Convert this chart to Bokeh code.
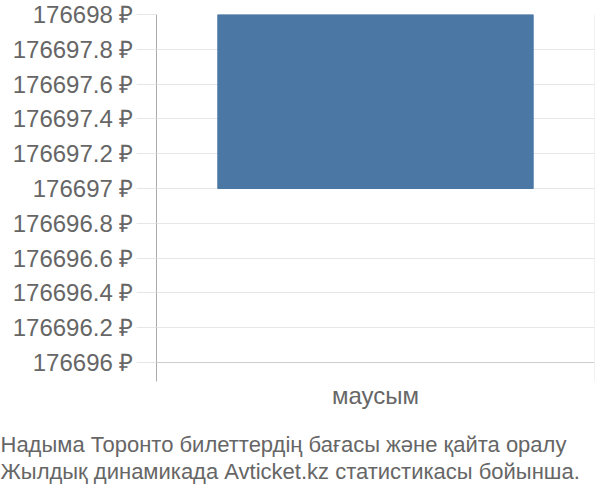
from bokeh.plotting import figure
from bokeh.models import FactorRange, Range1d, FixedTicker, Span, Title
from bokeh.embed import file_html
from bokeh.resources import INLINE

# ---- data ----
categories = ["маусым"]
bar_low = [176697]
bar_high = [176698]
y_ticks = [176696, 176696.2, 176696.4, 176696.6, 176696.8, 176697,
           176697.2, 176697.4, 176697.6, 176697.8, 176698]
y_tick_labels = ["176696 ₽", "176696.2 ₽", "176696.4 ₽", "176696.6 ₽", "176696.8 ₽",
                 "176697 ₽", "176697.2 ₽", "176697.4 ₽", "176697.6 ₽", "176697.8 ₽",
                 "176698 ₽"]
footer_lines = ["Надыма Торонто билеттердің бағасы және қайта оралу",
                "Жылдық динамикада Avticket.kz статистикасы бойынша."]

FONT = "Liberation Sans"
TXT = "#666666"

p = figure(frame_width=438, frame_height=367, output_backend="svg", toolbar_location=None,
           x_range=FactorRange(factors=categories, range_padding=0),
           y_range=Range1d(176695.891, 176698),
           min_border_left=156, min_border_top=14, min_border_right=4,
           min_border_bottom=2)
p.outline_line_color = None
p.background_fill_color = "white"
p.border_fill_color = "white"

p.vbar(x=categories, bottom=bar_low, top=bar_high, width=0.72,
       fill_color="#4b77a5", line_color="#4b77a5")

# y axis
p.yaxis.ticker = FixedTicker(ticks=y_ticks)
p.yaxis.major_label_overrides = {t: l for t, l in zip(y_ticks, y_tick_labels)}
p.yaxis.major_tick_out = 20
p.yaxis.major_tick_in = 0
p.yaxis.major_tick_line_color = "#e6e6e6"
p.yaxis.minor_tick_line_color = None
p.yaxis.axis_line_color = "#aaaaaa"
p.yaxis.axis_line_width = 1
p.yaxis.major_label_standoff = 3
p.yaxis.major_label_text_font = FONT
p.yaxis.major_label_text_font_size = "24px"
p.yaxis.major_label_text_color = TXT

p.ygrid.ticker = FixedTicker(ticks=y_ticks)
p.ygrid.grid_line_color = "#e6e6e6"
p.ygrid.grid_line_width = 1
p.xgrid.grid_line_color = None

# slightly darker baseline at the axis minimum
p.add_layout(Span(location=y_ticks[0], dimension="width",
                  line_color="#cccccc", line_width=1))

# x axis
p.xaxis.axis_line_color = None
p.xaxis.major_tick_line_color = None
p.xaxis.minor_tick_line_color = None
p.xaxis.major_tick_in = 0
p.xaxis.major_tick_out = 0
p.xaxis.major_label_standoff = 0
p.xaxis.major_label_text_font = FONT
p.xaxis.major_label_text_font_size = "24px"
p.xaxis.major_label_text_color = TXT

# right boundary line of the category band
p.add_layout(Span(location=len(categories), dimension="height",
                  line_color="#e6e6e6", line_width=1))

p.add_layout(Title(text="\n".join(footer_lines), align="left", text_font=FONT,
                   text_font_size="22px", text_font_style="normal",
                   text_color=TXT, offset=-156, standoff=35,
                   text_line_height=1.1), "below")

open("out.html", "w").write(file_html(p, INLINE))
